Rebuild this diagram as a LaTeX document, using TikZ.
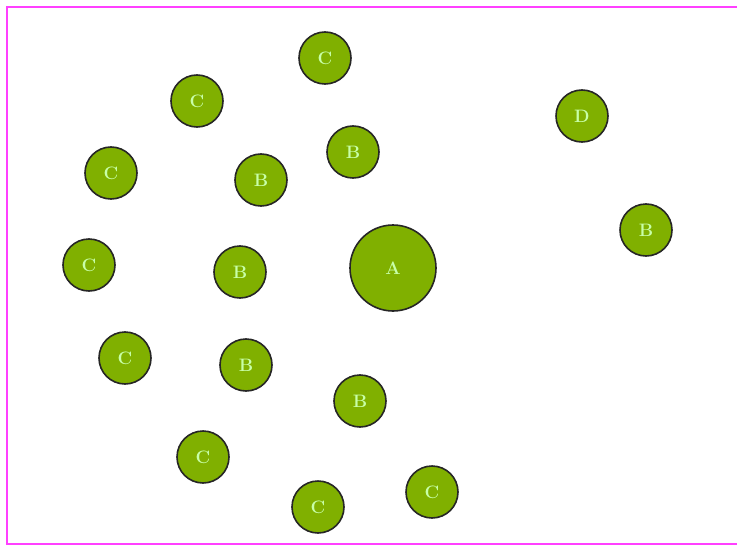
\documentclass[tikz,border=0pt]{standalone}
\begin{document}
\begin{tikzpicture}[x=1pt,y=-1pt,
  ball/.style={circle,draw=black!85,line width=1.6pt,fill=ballgreen,minimum size=52pt,inner sep=0pt,text=balltext,font=\bfseries\fontsize{18}{18}\selectfont},
  bigball/.style={ball,minimum size=86pt}]
\definecolor{ballgreen}{HTML}{80B000}
\definecolor{balltext}{HTML}{C8FFA8}
\definecolor{frame}{HTML}{FF40FF}
\useasboundingbox (0,0) rectangle (737,546);
\begin{scope}
\clip (0,0) rectangle (737,546);
\draw[frame,line width=2.5pt] (7,7) rectangle (745,544);
\end{scope}
\node[bigball] (a) at (393,268) {A};
\node[ball] (d1) at (582,116) {D};
\node[ball] (b1) at (646,230) {B};
\node[ball] (c1) at (325,58) {C};
\node[ball] (c2) at (197,101) {C};
\node[ball] (b2) at (353,152) {B};
\node[ball] (c3) at (111,173) {C};
\node[ball] (b3) at (261,180) {B};
\node[ball] (c4) at (89,265) {C};
\node[ball] (b4) at (240,272) {B};
\node[ball] (c5) at (125,358) {C};
\node[ball] (b5) at (246,365) {B};
\node[ball] (b6) at (360,401) {B};
\node[ball] (c6) at (203,457) {C};
\node[ball] (c7) at (432,492) {C};
\node[ball] (c8) at (318,507) {C};
\end{tikzpicture}
\end{document}
